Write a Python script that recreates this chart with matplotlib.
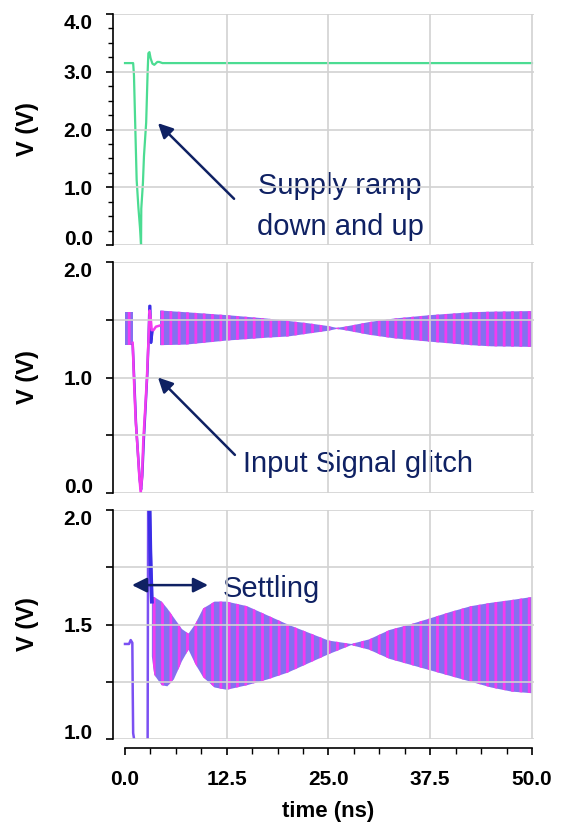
import matplotlib
matplotlib.use('Agg')
import matplotlib.pyplot as plt
from matplotlib.ticker import MultipleLocator, FormatStrFormatter

plt.rcParams['font.family'] = ['Liberation Sans', 'DejaVu Sans']
plt.rcParams['hatch.linewidth'] = 2.0

# panel 1: supply voltage (ns, V)
supply_t = [0.0, 1.0, 1.1, 1.23, 1.43, 1.64, 1.84, 1.97, 2.0, 2.2, 2.33, 2.6,
            2.78, 2.87, 3.0, 3.15, 3.37, 3.6, 3.97, 4.2, 4.6, 50.0]
supply_v = [3.15, 3.15, 2.94, 2.22, 1.13, 0.66, 0.3, 0.0, 0.63, 1.07, 1.54, 2.12,
            3.0, 3.32, 3.34, 3.23, 3.14, 3.12, 3.17, 3.17, 3.15, 3.15]

# panel 2: input signal glitch, two traces
in_mag_t = [0.94, 1.1, 1.31, 1.56, 1.76, 1.93, 2.09, 2.25, 2.5, 2.7, 2.87, 3.03,
            3.19, 3.28, 3.5, 3.8, 4.3]
in_mag_v = [1.30, 0.98, 0.63, 0.37, 0.14, 0.0, 0.14, 0.46, 0.75, 1.01, 1.3, 1.58,
            1.49, 1.41, 1.41, 1.44, 1.45]
in_blu_t = [0.95, 1.15, 1.35, 1.6, 1.8, 1.97, 2.12, 2.3, 2.55, 2.75, 2.9, 3.0,
            3.1, 3.2, 3.3, 3.4]
in_blu_v = [1.28, 0.95, 0.6, 0.33, 0.12, 0.03, 0.15, 0.45, 0.78, 1.05, 1.35, 1.62,
            1.62, 1.30, 1.36, 1.41]

# panel 2: oscillation envelope (upper / lower)
in_pre_t = [0.0, 1.0]
in_pre_hi = [1.57, 1.57]
in_pre_lo = [1.28, 1.28]
in_env_t = [4.3, 7.5, 12.5, 17.5, 20.0, 22.5, 25.0, 26.0, 27.0, 30.0, 33.0,
            37.5, 42.5, 45.0, 50.0]
in_env_hi = [1.58, 1.565, 1.54, 1.51, 1.49, 1.47, 1.445, 1.43, 1.44, 1.48, 1.51,
             1.54, 1.565, 1.57, 1.575]
in_env_lo = [1.28, 1.285, 1.32, 1.345, 1.355, 1.38, 1.405, 1.42, 1.41, 1.37, 1.34,
             1.31, 1.28, 1.27, 1.265]

# panel 3: output
out_t = [0.0, 0.5, 0.7, 0.9, 0.95, 1.0, 1.2, 1.4, 2.7, 2.78, 2.85, 3.0, 3.07,
         3.15, 3.28]
out_v = [1.415, 1.415, 1.432, 1.42, 1.2, 1.026, 0.98, 0.9, 0.9, 1.0, 2.1, 2.1,
         1.95, 1.83, 1.62]
spike_t = [2.95, 3.0, 3.1, 3.2, 3.3]
spike_v = [2.1, 2.05, 1.83, 1.7, 1.6]
out_env_t = [3.3, 3.6, 4.5, 5.2, 6.0, 7.0, 7.8, 8.6, 9.6, 11.0, 12.5, 15.0,
             17.5, 20.0, 22.5, 25.0, 27.8, 30.0, 32.5, 35.0, 37.5, 40.0, 42.5,
             45.0, 47.5, 50.0]
out_env_hi = [1.62, 1.62, 1.60, 1.57, 1.53, 1.48, 1.46, 1.50, 1.57, 1.60, 1.60,
              1.58, 1.54, 1.50, 1.465, 1.43, 1.415, 1.435, 1.476, 1.50, 1.527,
              1.555, 1.58, 1.595, 1.607, 1.62]
out_env_lo = [1.36, 1.28, 1.235, 1.23, 1.26, 1.34, 1.39, 1.33, 1.27, 1.225,
              1.215, 1.235, 1.26, 1.29, 1.33, 1.37, 1.41, 1.39, 1.35, 1.325,
              1.30, 1.275, 1.25, 1.225, 1.207, 1.20]

x_major = [0.0, 12.5, 25.0, 37.5, 50.0]
x_grid = [12.5, 25.0, 37.5, 50.0]
y1_ticks = [0.0, 1.0, 2.0, 3.0, 4.0]
y1_labels = ['0.0', '1.0', '2.0', '3.0', '4.0']
y2_ticks = [0.0, 0.5, 1.0, 1.5, 2.0]
y2_labels = ['0.0', '', '1.0', '', '2.0']
y3_ticks = [1.0, 1.25, 1.5, 1.75, 2.0]
y3_labels = ['1.0', '', '1.5', '', '2.0']

GREEN = '#4bdc92'
MAG = '#f23cf0'
BLUE = '#3b2ee6'
PURPLE = '#7b50f2'
BAND = '#8570f0'
NAVY = '#0f2163'
GRID = '#d2d2d2'

W, H = 566, 826
fig = plt.figure(figsize=(W / 100, H / 100), dpi=100)


def px_axes(left, right, top, bottom):
    return fig.add_axes([left / W, 1 - bottom / H, (right - left) / W, (bottom - top) / H])


ax1 = px_axes(112.8, 534.4, 14, 245)
ax2 = px_axes(112.8, 534.4, 262, 493)
ax3 = px_axes(112.8, 534.4, 510, 739)

for ax in (ax1, ax2, ax3):
    ax.set_xlim(-1.5, 50.3)
    ax.spines['top'].set_visible(False)
    ax.spines['right'].set_visible(False)
    ax.spines['left'].set_linewidth(1.2)
    ax.tick_params(axis='y', which='major', length=5, width=1.2, pad=9.5, labelsize=15)
    ax.tick_params(axis='y', which='minor', length=3.5, width=1.0)

for ax in (ax1, ax2):
    ax.set_xticks([])
    ax.spines['bottom'].set_visible(False)

# panel 1
ax1.set_ylim(0, 4)
ax1.set_yticks(y1_ticks, y1_labels)
ax1.yaxis.set_minor_locator(MultipleLocator(0.25))
ax1.plot(supply_t, supply_v, color=GREEN, lw=1.6)

# panel 2
ax2.set_ylim(0, 2)
ax2.set_yticks(y2_ticks, y2_labels)
for t, hi, lo in ((in_pre_t, in_pre_hi, in_pre_lo), (in_env_t, in_env_hi, in_env_lo)):
    ax2.fill_between(t, lo, hi, facecolor=BAND, edgecolor=MAG, hatch='||', lw=0)
ax2.plot(in_blu_t, in_blu_v, color=BLUE, lw=1.8)
ax2.plot(in_mag_t, in_mag_v, color=MAG, lw=1.8)

# panel 3
ax3.set_xticks(x_major)
ax3.set_ylim(1, 2)
ax3.set_yticks(y3_ticks, y3_labels)
ax3.fill_between(out_env_t, out_env_lo, out_env_hi, facecolor=BAND,
                 edgecolor=MAG, hatch='||', lw=0)
ax3.plot(out_t, out_v, color=PURPLE, lw=1.8)
ax3.plot(spike_t, spike_v, color=BLUE, lw=2.8)
ax3.spines['bottom'].set_position(('outward', 6.5))
ax3.spines['bottom'].set_bounds(0, 50)
ax3.spines['bottom'].set_linewidth(1.2)
ax3.xaxis.set_minor_locator(MultipleLocator(3.125))
ax3.xaxis.set_major_formatter(FormatStrFormatter('%.1f'))
ax3.tick_params(axis='x', which='major', length=5, width=1.2, pad=11, labelsize=15)
ax3.tick_params(axis='x', which='minor', length=4.5, width=1.0)

# grid lines drawn over the traces, as in the source plot
for ax in (ax1, ax2, ax3):
    lo, hi = ax.get_ylim()
    for y in ax.get_yticks():
        if lo <= y <= hi:
            ax.axhline(y, color=GRID, lw=1.2, zorder=2.5)
    for x in x_grid:
        ax.axvline(x, color=GRID, lw=1.2, zorder=2.5)
    ax.text(-0.2035, 0.5, 'V (V)', transform=ax.transAxes, rotation=90,
            ha='center', va='center', fontsize=17, fontweight='bold')

fig.text(328 / W, 1 - 812 / H, 'time (ns)', ha='center', va='center',
         fontsize=16, fontweight='bold')

# annotations
arrow = dict(arrowstyle='-|>', color=NAVY, lw=1.8, mutation_scale=22,
             shrinkA=0, shrinkB=0)
ax1.annotate('', xy=(4.05, 2.11), xytext=(13.4, 0.80), arrowprops=arrow)
ax1.text(16.3, 0.883, 'Supply ramp', color=NAVY, fontsize=21, va='baseline', zorder=2.2)
ax1.text(16.2, 0.17, 'down and up', color=NAVY, fontsize=21, va='baseline', zorder=2.2)

ax2.annotate('', xy=(4.05, 1.0), xytext=(13.5, 0.33), arrowprops=arrow)
ax2.text(14.5, 0.18, 'Input Signal glitch', color=NAVY, fontsize=21, va='baseline', zorder=2.2)

ax3.annotate('', xy=(0.86, 1.672), xytext=(10.2, 1.672),
             arrowprops=dict(arrow, arrowstyle='<|-|>'))
ax3.text(12.0, 1.62, 'Settling', color=NAVY, fontsize=21, va='baseline', zorder=2.2)

fig.canvas.draw()
for ax in (ax1, ax2, ax3):
    for lab in ax.get_yticklabels() + ax.get_xticklabels():
        lab.set_fontweight('bold')
    # end labels sit inside the axis range
    ticks = ax.yaxis.get_major_ticks()
    ticks[0].label1.set_verticalalignment('baseline')
    ticks[-1].label1.set_verticalalignment('top')

fig.savefig('out.png', dpi=100)
